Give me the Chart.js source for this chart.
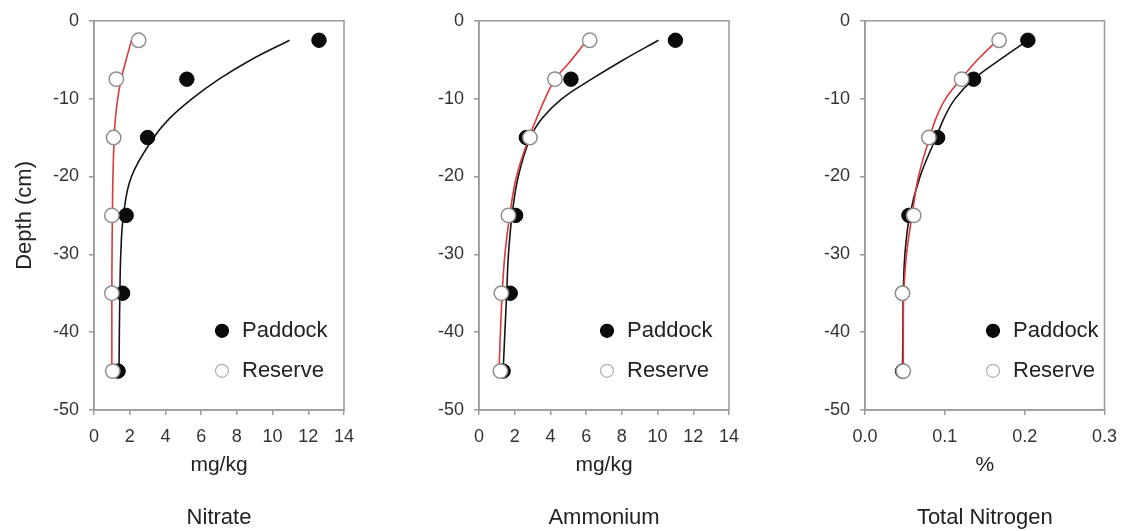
<!DOCTYPE html>
<html>
<head>
<meta charset="utf-8">
<script src="https://cdn.jsdelivr.net/npm/chart.js@4/dist/chart.umd.min.js"></script>
<style>
  body { margin: 0; background: #fff; }
  #wrap { position: relative; width: 1128px; height: 531px; overflow: hidden; }
  .panel { position: absolute; top: 0; width: 376px; height: 531px; }
</style>
</head>
<body>
<div id="wrap">
  <div class="panel" style="left:0px"><canvas id="nitrate" width="376" height="531"></canvas></div>
  <div class="panel" style="left:376px"><canvas id="ammonium" width="376" height="531"></canvas></div>
  <div class="panel" style="left:752px"><canvas id="totalN" width="376" height="531"></canvas></div>
</div>
<script>
// sampling depths (cm)
const depths = [-2.5, -7.5, -15, -25, -35, -45];
const fitDepths = [-2.5, -5, -7.5, -10, -12.5, -15, -20, -25, -30, -35, -40, -45];

const nitratePaddock = [12.6, 5.2, 3.0, 1.8, 1.6, 1.35];
const nitrateReserve = [2.5, 1.25, 1.1, 1.0, 1.0, 1.05];
const nitratePaddockFit = [10.95, 8.8, 7.0, 5.5, 4.25, 3.35, 2.1, 1.65, 1.5, 1.45, 1.42, 1.4];
const nitrateReserveFit = [2.1, 1.8, 1.52, 1.33, 1.2, 1.13, 1.06, 1.03, 1.01, 1.0, 1.0, 1.0];

const ammoniumPaddock = [11.0, 5.15, 2.65, 2.05, 1.75, 1.35];
const ammoniumReserve = [6.2, 4.25, 2.85, 1.65, 1.25, 1.2];
const ammoniumPaddockFit = [10.05, 8.1, 6.3, 4.65, 3.55, 2.88, 2.2, 1.85, 1.65, 1.55, 1.45, 1.35];
const ammoniumReserveFit = [6.03, 5.19, 4.26, 3.7, 3.23, 2.8, 2.1, 1.72, 1.45, 1.3, 1.2, 1.12];

const totalNPaddock = [0.204, 0.136, 0.091, 0.055, 0.047, 0.047];
const totalNReserve = [0.168, 0.121, 0.080, 0.061, 0.047, 0.048];
const totalNPaddockFit = [0.204, 0.169, 0.136, 0.113, 0.099, 0.089, 0.069, 0.056, 0.050, 0.048, 0.0475, 0.047];
const totalNReserveFit = [0.166, 0.141, 0.120, 0.101, 0.089, 0.081, 0.067, 0.059, 0.052, 0.0486, 0.048, 0.048];

const seriesNames = ["Paddock", "Reserve"];

const FONT = "'Liberation Sans', Arial, Helvetica, sans-serif";
const GRAY = "#9a9a9a";
const TEXT = "#222";

function pts(xs, ys) {
  return xs.map((x, i) => ({ x: x, y: ys[i] }));
}

// gray box round the plot area, and the legend inside it
const boxAndLegend = {
  id: "boxAndLegend",
  beforeDatasetsDraw(chart) {
    const a = chart.chartArea;
    const ctx = chart.ctx;
    ctx.save();
    ctx.strokeStyle = GRAY;
    ctx.lineWidth = 1.5;
    ctx.strokeRect(a.left, a.top, a.right - a.left, a.bottom - a.top);
    ctx.restore();
  },
  afterDatasetsDraw(chart) {
    const a = chart.chartArea;
    const ctx = chart.ctx;
    const ds = chart.data.datasets;
    ctx.save();
    ctx.font = "22px " + FONT;
    ctx.textBaseline = "middle";
    ctx.textAlign = "left";
    [0, 1].forEach((i) => {
      const cy = a.top + 310 + i * 40;
      const cx = a.left + 128;
      ctx.beginPath();
      ctx.arc(cx, cy, 6.5, 0, Math.PI * 2);
      ctx.fillStyle = ds[i].backgroundColor;
      ctx.fill();
      ctx.lineWidth = 1.2;
      ctx.strokeStyle = i === 0 ? "#000" : "#b0b0b0";
      ctx.stroke();
      ctx.fillStyle = TEXT;
      ctx.fillText(ds[i].label, cx + 20, cy);
    });
    ctx.restore();
  },
};

function makeChart(id, cfg) {
  const ctx = document.getElementById(id).getContext("2d");
  return new Chart(ctx, {
    type: "scatter",
    data: {
      datasets: [
        {
          label: seriesNames[0],
          data: pts(cfg.paddock, depths),
          backgroundColor: "#0b0b0b",
          borderColor: "#000",
          borderWidth: 1,
          pointRadius: 7.2,
          order: 1,
        },
        {
          label: seriesNames[1],
          data: pts(cfg.reserve, depths),
          backgroundColor: "#ffffff",
          borderColor: "#8e8e8e",
          borderWidth: 1.5,
          pointRadius: 7.2,
          order: 0,
        },
        {
          label: "Paddock fit",
          data: pts(cfg.paddockFit, fitDepths),
          showLine: true,
          borderColor: "#151515",
          borderWidth: 1.6,
          pointRadius: 0,
          tension: 0.4,
          order: 3,
        },
        {
          label: "Reserve fit",
          data: pts(cfg.reserveFit, fitDepths),
          showLine: true,
          borderColor: "#d93a3a",
          borderWidth: 1.6,
          pointRadius: 0,
          tension: 0.4,
          order: 2,
        },
      ],
    },
    options: {
      responsive: false,
      animation: false,
      devicePixelRatio: 1,
      layout: { padding: { left: 0, right: cfg.padRight, top: 19, bottom: 0 } },
      plugins: {
        legend: { display: false },
        tooltip: { enabled: false },
        title: {
          display: true,
          position: "bottom",
          fullSize: false,
          text: cfg.title,
          color: TEXT,
          font: { family: FONT, size: 22, weight: "normal", lineHeight: 1.2 },
          padding: { top: 0, bottom: 0 },
        },
      },
      scales: {
        x: {
          type: "linear",
          position: "bottom",
          min: 0,
          max: cfg.xMax,
          afterFit: (s) => { s.height = 94.6; },
          ticks: {
            stepSize: cfg.xStep,
            color: "#333",
            padding: 11,
            font: { family: FONT, size: 18 },
            callback: (v) => cfg.xDecimals ? Number(v).toFixed(cfg.xDecimals) : String(Math.round(v)),
          },
          grid: { display: true, drawOnChartArea: false, drawTicks: true, tickLength: 5, color: GRAY, lineWidth: 1.5 },
          border: { display: true, color: GRAY, width: 1.5 },
          title: {
            display: true,
            text: cfg.xTitle,
            color: TEXT,
            font: { family: FONT, size: 21, lineHeight: 1.2 },
            padding: { top: 0, bottom: 27 },
          },
        },
        y: {
          type: "linear",
          position: "left",
          min: -50,
          max: 0,
          afterFit: (s) => { s.width = cfg.yWidth; },
          ticks: {
            stepSize: 10,
            color: "#333",
            padding: 10,
            font: { family: FONT, size: 18 },
          },
          grid: { display: true, drawOnChartArea: false, drawTicks: true, tickLength: 5, color: GRAY, lineWidth: 1.5 },
          border: { display: true, color: GRAY, width: 1.5 },
          title: {
            display: cfg.yTitle !== "",
            text: cfg.yTitle,
            color: TEXT,
            font: { family: FONT, size: 22, lineHeight: 1.2 },
            padding: { top: 12, bottom: 0 },
          },
        },
      },
    },
    plugins: [boxAndLegend],
  });
}

makeChart("nitrate", {
  paddock: nitratePaddock, reserve: nitrateReserve,
  paddockFit: nitratePaddockFit, reserveFit: nitrateReserveFit,
  xMax: 14, xStep: 2, xDecimals: 0, xTitle: "mg/kg", title: "Nitrate",
  yTitle: "Depth (cm)", yWidth: 94, padRight: 32,
});
makeChart("ammonium", {
  paddock: ammoniumPaddock, reserve: ammoniumReserve,
  paddockFit: ammoniumPaddockFit, reserveFit: ammoniumReserveFit,
  xMax: 14, xStep: 2, xDecimals: 0, xTitle: "mg/kg", title: "Ammonium",
  yTitle: "", yWidth: 103, padRight: 23,
});
makeChart("totalN", {
  paddock: totalNPaddock, reserve: totalNReserve,
  paddockFit: totalNPaddockFit, reserveFit: totalNReserveFit,
  xMax: 0.3, xStep: 0.1, xDecimals: 1, xTitle: "%", title: "Total Nitrogen",
  yTitle: "", yWidth: 113, padRight: 14,
});
</script>
</body>
</html>
